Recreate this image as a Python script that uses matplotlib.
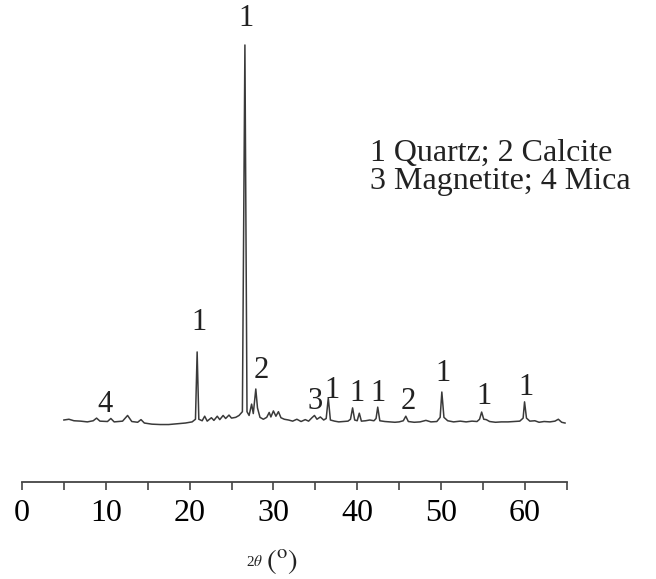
#!/usr/bin/env python3
# XRD pattern of the sample: quartz / calcite / magnetite / mica reflections.
import numpy as np
import matplotlib; matplotlib.use("Agg")
import matplotlib.pyplot as plt
from matplotlib.ticker import MultipleLocator

plt.rcParams["font.family"] = ["Liberation Serif", "DejaVu Serif"]
plt.rcParams["mathtext.fontset"] = "stix"

# pattern (2theta in degrees, intensity scaled so the main quartz peak = 100)
two_theta = [5.0, 5.6, 6.2, 7.0, 7.8, 8.5, 8.9, 9.3, 10.2, 10.6, 11.0, 12.0, 12.6, 13.1,
             13.8, 14.2, 14.6, 15.5, 16.5, 17.5, 18.5, 19.5, 20.3, 20.7, 20.9, 21.1,
             21.5, 21.8, 22.1, 22.6, 22.9, 23.3, 23.6, 24.0, 24.3, 24.7, 25.0, 25.5,
             25.9, 26.3, 26.6, 26.85, 27.1, 27.4, 27.6, 27.9, 28.1, 28.4, 28.8, 29.2,
             29.5, 29.7, 30.0, 30.3, 30.6, 30.9, 31.3, 31.8, 32.3, 32.8, 33.3, 33.8,
             34.2, 34.6, 34.9, 35.2, 35.6, 36.0, 36.3, 36.55, 36.8, 37.3, 37.8, 38.3,
             38.9, 39.2, 39.45, 39.7, 40.0, 40.25, 40.5, 41.0, 41.5, 42.0, 42.25, 42.45,
             42.7, 43.3, 44.0, 44.5, 45.0, 45.5, 45.8, 46.1, 46.8, 47.5, 48.2, 48.8,
             49.5, 49.9, 50.1, 50.35, 50.8, 51.5, 52.3, 53.0, 53.7, 54.3, 54.6, 54.85,
             55.1, 55.4, 55.8, 56.5, 57.2, 58.0, 58.7, 59.4, 59.8, 59.97, 60.2, 60.6,
             61.2, 61.7, 62.3, 63.0, 63.6, 64.0, 64.4, 64.8]
intensity = [0.8, 1.0, 0.6, 0.5, 0.3, 0.6, 1.3, 0.5, 0.4, 1.2, 0.3, 0.5, 2.0, 0.4,
             0.2, 0.9, 0.0, -0.3, -0.4, -0.4, -0.2, 0.0, 0.3, 1.0, 18.8, 1.0,
             0.6, 1.8, 0.5, 1.4, 0.7, 1.8, 0.9, 2.0, 1.2, 2.1, 1.3, 1.5,
             2.0, 3.0, 100.0, 3.0, 2.0, 5.0, 2.5, 9.0, 4.0, 1.5, 1.0, 1.5,
             2.8, 1.6, 3.2, 1.8, 3.0, 1.4, 1.0, 0.8, 0.5, 1.0, 0.4, 0.9,
             0.5, 1.4, 2.0, 1.0, 1.6, 0.8, 1.2, 6.6, 0.8, 0.5, 0.3, 0.4,
             0.5, 1.0, 4.0, 0.8, 0.6, 2.6, 0.5, 0.6, 0.8, 0.6, 1.2, 4.2,
             0.6, 0.4, 0.3, 0.2, 0.3, 0.6, 1.8, 0.4, 0.2, 0.3, 0.7, 0.3,
             0.4, 1.5, 8.2, 1.5, 0.6, 0.3, 0.5, 0.3, 0.5, 0.4, 1.0, 2.9,
             1.0, 0.9, 0.4, 0.2, 0.3, 0.3, 0.4, 0.5, 1.3, 5.6, 1.3, 0.5,
             0.6, 0.2, 0.4, 0.3, 0.5, 1.0, 0.2, 0.0]

# phase labels above the peaks: 1 quartz, 2 calcite, 3 magnetite, 4 mica
label_text = ["1", "1", "2", "3", "1", "1", "1", "2", "1", "1", "1", "4"]
label_x = [26.7, 21.1, 28.6, 35.0, 37.0, 40.0, 42.5, 46.1, 50.2, 55.1, 60.1, 9.9]
label_y = [107.0, 26.7, 13.8, 5.6, 8.7, 7.9, 7.9, 5.6, 13.2, 6.9, 9.3, 4.8]

legend_lines = ["1 Quartz; 2 Calcite", "3 Magnetite; 4 Mica"]

W, H = 656, 579
fig = plt.figure(figsize=(W/100, H/100), dpi=100)
ax = fig.add_axes([22/W, 1 - 482/H, 544.7/W, 482/H])

ax.plot(two_theta, intensity, color="#3a3a3a", lw=1.1)
ax.set_xlim(0, 65)
ax.set_ylim(-15.6, 111.9)

for s in ["left", "right", "top"]:
    ax.spines[s].set_visible(False)
ax.spines["bottom"].set_color("#444")
ax.spines["bottom"].set_linewidth(1.3)
ax.set_yticks([])
ax.xaxis.set_major_locator(MultipleLocator(10))
ax.xaxis.set_minor_locator(MultipleLocator(5))
ax.tick_params(axis="x", which="both", direction="out", length=6, width=1.2,
               color="#444", labelsize=23, pad=6)

for t, x, y in zip(label_text, label_x, label_y):
    ax.text(x, y, t, ha="center", va="center", fontsize=22, color="#222")

for i, line in enumerate(legend_lines):
    fig.text(370/W, 1 - (153 + 29*i)/H, line, ha="left", va="center",
             fontsize=23, color="#222")

# x label: small "2θ" followed by a large "(°)"
fig.text(255/W, 1 - 562/H, r"2$\theta$", ha="center", va="center", fontsize=11, color="#222")
fig.text(282/W, 1 - 561/H, r"$(^{\rm o})$", ha="center", va="center", fontsize=21, color="#222")

fig.savefig("out.png", dpi=100)
